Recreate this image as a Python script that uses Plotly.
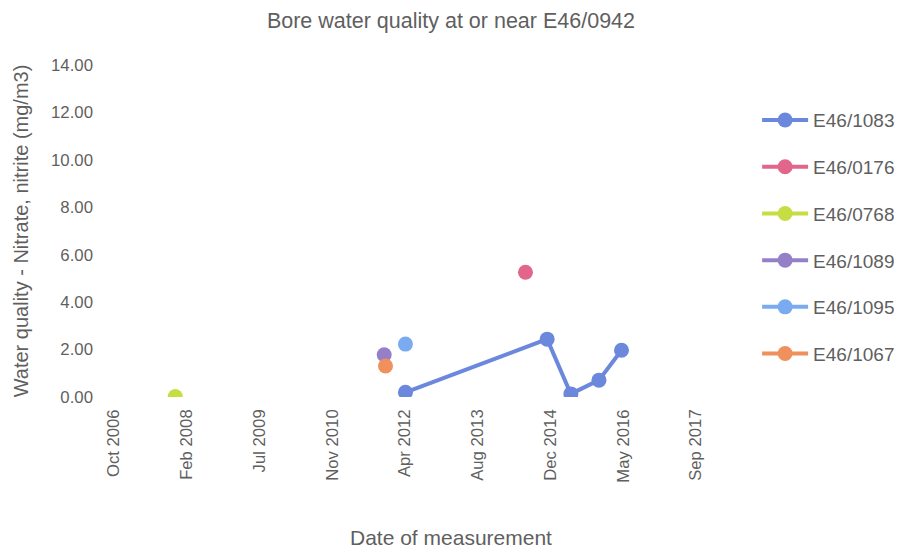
import plotly.graph_objects as go
import pandas as pd

# ---- data ----
series_names = ["E46/1083", "E46/0176", "E46/0768", "E46/1089", "E46/1095", "E46/1067"]
series_colors = ["#6c88dc", "#e2668c", "#c6de44", "#9580c8", "#7aabf0", "#f0905c"]

e1083_dates = ["2012-04-04", "2014-12-04", "2015-05-16", "2015-11-25", "2016-04-28"]
e1083_vals = [0.20, 2.44, 0.13, 0.71, 1.97]
e0176_dates = ["2014-07-08"]
e0176_vals = [5.26]
e0768_dates = ["2007-12-05"]
e0768_vals = [0.02]
e1089_dates = ["2011-11-10"]
e1089_vals = [1.78]
e1095_dates = ["2012-04-04"]
e1095_vals = [2.23]
e1067_dates = ["2011-11-19"]
e1067_vals = [1.31]

series_dates = [e1083_dates, e0176_dates, e0768_dates, e1089_dates, e1095_dates, e1067_dates]
series_vals = [e1083_vals, e0176_vals, e0768_vals, e1089_vals, e1095_vals, e1067_vals]

x_tick_labels = ["Oct 2006", "Feb 2008", "Jul 2009", "Nov 2010", "Apr 2012",
                 "Aug 2013", "Dec 2014", "May 2016", "Sep 2017"]
y_tick_vals = [0, 2, 4, 6, 8, 10, 12, 14]

axis_start = pd.Timestamp("2006-10-10")
tick_dates = [axis_start + pd.Timedelta(days=500 * i) for i in range(len(x_tick_labels))]

FONT = "Liberation Sans, Arial, sans-serif"
GREY = "#5f5f5f"

fig = go.Figure()
for i, (name, color, d, v) in enumerate(zip(series_names, series_colors, series_dates, series_vals)):
    fig.add_trace(go.Scatter(
        x=pd.to_datetime(d), y=v, name=name, mode="lines+markers",
        line=dict(color=color, width=4),
        marker=dict(color=color, size=15),
        legendgroup=f"g{i}",
    ))

# page body has an 8px default margin, so the figure is drawn 8px in from the corner
fig.update_layout(
    width=894, height=545,
    margin=dict(l=106, r=206, t=57, b=156, autoexpand=False),
    paper_bgcolor="white", plot_bgcolor="white",
    font=dict(family=FONT, color=GREY, size=16),
    title=dict(text="Bore water quality at or near E46/0942", x=0.4955, xref="container",
               xanchor="center", y=0.978, yanchor="middle",
               font=dict(family=FONT, size=21.5, color=GREY)),
    showlegend=True,
    legend=dict(x=1.105, xanchor="left", y=0.891, yanchor="top",
                traceorder="grouped", tracegroupgap=19,
                font=dict(family=FONT, size=19, color=GREY),
                itemwidth=46, bgcolor="rgba(0,0,0,0)"),
    xaxis=dict(
        type="date", range=[tick_dates[0], tick_dates[-1]],
        tickmode="array", tickvals=tick_dates, ticktext=x_tick_labels,
        tickangle=-90, showgrid=False, zeroline=False, showline=False,
        tickfont=dict(family=FONT, size=16.7, color=GREY), ticks="",
        ticklabelstandoff=8, automargin=False,
    ),
    yaxis=dict(
        range=[0, 14], tickmode="array", tickvals=y_tick_vals,
        tickformat=".2f", showgrid=False, zeroline=False, showline=False,
        tickfont=dict(family=FONT, size=16.8, color=GREY), ticks="",
        ticklabelstandoff=20, automargin=False,
        title=dict(text="Water quality - Nitrate, nitrite (mg/m3)",
                   font=dict(family=FONT, size=20, color=GREY), standoff=17),
    ),
)

fig.add_annotation(text="Date of measurement", xref="paper", yref="paper",
                   x=0.579, y=-0.422, xanchor="center", yanchor="middle",
                   showarrow=False, font=dict(family=FONT, size=21, color=GREY))

fig.write_html("out.html")
